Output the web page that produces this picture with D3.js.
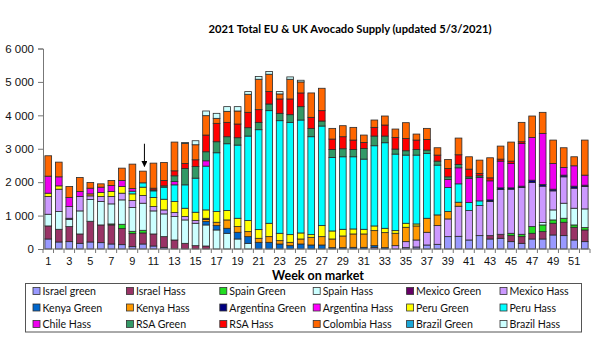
<!DOCTYPE html>
<html><head><meta charset="utf-8">
<script src="https://cdn.jsdelivr.net/npm/d3@7"></script>
<style>
body{margin:0;background:#fff;}
svg{display:block;}
</style></head>
<body>
<svg id="chart" width="600" height="350"></svg>
<script>
const weeks = d3.range(1, 53);
const yTicks = [0, 1000, 2000, 3000, 4000, 5000, 6000];
const xLabelWeeks = d3.range(1, 53, 2);
const titleText = "2021 Total EU & UK Avocado Supply (updated 5/3/2021)";
const xTitle = "Week on market";

const seriesNames = ["Israel green","Israel Hass","Spain Green","Spain Hass","Mexico Green","Mexico Hass",
  "Kenya Green","Kenya Hass","Argentina Green","Argentina Hass","Peru Green","Peru Hass",
  "Chile Hass","RSA Green","RSA Hass","Colombia Hass","Brazil Green","Brazil Hass"];
const seriesColors = ["#9999FF","#993366","#22DD22","#CCFFFF","#660066","#CC99FF",
  "#0066CC","#FF9900","#000080","#FF00FF","#FFFF00","#00FFFF",
  "#EE00EE","#339966","#FF0000","#FF6600","#1AA6D6","#CCFFFF"];

const israelGreen = [300,210,220,170,210,190,150,130,70,150, 90,50,0,0,0,0,0,0,0,0, 0,0,0,0,0,0,0,0,0,0, 0,0,0,0,40,60,120,140,370,380, 270,400,300,320,220,170,300,300,420,400, 270,220];
const israelHass = [390,380,450,280,620,530,570,480,390,330, 360,320,270,170,100,90,0,0,0,0, 0,0,0,0,0,0,0,0,0,0, 0,0,0,0,0,0,0,0,0,0, 0,0,100,120,180,200,170,220,350,400, 380,350];
const spainGreen = [0,0,0,0,0,0,30,130,70,80, 0,0,0,0,0,0,0,0,0,0, 0,0,0,0,0,0,0,0,0,0, 0,0,0,0,0,0,0,0,0,0, 0,0,0,0,70,70,200,200,100,120, 70,70];
const spainHass = [350,530,220,690,650,700,600,730,710,810, 690,680,700,700,670,630,570,470,300,170, 0,0,0,0,0,0,0,0,0,0, 0,0,0,0,0,0,0,0,0,0, 0,0,0,0,0,0,0,70,300,450, 500,560];
const mexicoGreen = [0,0,30,0,0,0,0,0,0,0, 0,0,0,0,0,0,0,0,0,0, 0,0,0,0,0,0,0,0,0,0, 0,0,0,0,0,0,0,0,0,0, 0,0,0,0,0,0,0,0,0,0, 0,0];
const mexicoHass = [530,670,350,430,110,150,220,200,210,230, 130,120,120,100,80,0,0,0,0,0, 0,0,0,0,0,0,0,0,0,0, 0,50,0,100,180,210,380,560,530,900, 880,900,1020,1340,1320,1400,1320,1090,570,790, 600,670];
const kenyaGreen = [0,0,0,0,0,0,0,0,0,0, 0,0,0,0,0,100,130,150,200,200, 200,200,150,100,150,120,120,40,40,50, 50,50,40,0,0,0,0,0,0,0, 0,0,0,0,0,0,0,0,0,0, 0,0];
const kenyaHass = [0,0,0,0,60,0,0,0,0,0, 0,0,0,0,0,60,100,250,170,150, 120,170,100,100,150,230,250,260,350,400, 400,450,450,370,430,420,420,320,220,120, 0,0,0,0,0,0,0,0,0,0, 0,0];
const argentinaGreen = [0,0,0,0,0,0,0,0,0,0, 0,0,0,0,0,40,0,0,0,0, 0,0,0,0,0,0,0,0,0,0, 0,0,0,0,0,0,0,0,0,0, 0,0,50,50,40,40,70,50,50,50, 60,40];
const argentinaHass = [0,0,0,0,0,0,0,0,0,0, 0,0,0,0,0,0,0,0,0,0, 0,0,0,0,0,0,0,0,0,0, 0,0,0,0,0,0,0,0,0,0, 0,0,0,0,0,0,0,0,0,0, 0,0];
const peruGreen = [100,100,0,0,0,120,150,200,200,250, 270,320,330,250,250,250,320,280,250,330, 260,400,220,230,180,80,330,240,200,150, 140,140,130,80,120,60,0,0,0,0, 0,0,0,0,0,0,0,0,0,0, 0,0];
const peruHass = [0,0,0,0,0,0,0,0,80,130, 200,360,500,700,1020,1310,1760,2000,2190,2530, 2990,3370,3370,3360,3380,2930,2980,2200,2170,2160, 2100,2400,2560,2290,2040,2060,1940,1490,720,550, 240,140,0,0,0,0,0,0,0,0, 0,0];
const chileHass = [510,270,270,150,170,160,180,180,80,0, 0,0,100,0,0,160,0,0,0,0, 0,0,0,0,0,0,0,0,0,0, 0,0,0,0,0,0,0,0,240,480, 720,700,570,800,730,1280,1280,1530,770,230, 610,300];
const rsaGreen = [0,0,0,0,0,0,0,0,0,0, 30,40,170,490,350,270,330,210,220,250, 220,200,220,230,400,250,150,240,240,220, 320,290,200,150,130,170,100,120,80,100, 50,50,0,0,0,0,0,0,0,0, 0,0];
const rsaHass = [0,0,0,0,0,0,0,0,0,0, 50,160,150,150,200,500,550,430,410,460, 380,370,430,470,410,330,310,310,360,280, 180,260,330,350,370,280,320,180,250,290, 230,70,90,60,70,50,0,0,0,0, 0,0];
const colombiaHass = [610,440,330,420,170,100,150,370,730,350, 750,540,860,600,450,580,150,330,390,540, 910,520,150,590,330,730,670,320,330,380, 220,220,270,250,470,180,330,220,270,500, 370,400,600,390,570,580,640,630,700,590, 270,1050];
const brazilGreen = [0,0,0,0,0,0,0,0,0,0, 0,0,0,0,0,0,0,0,0,0, 0,0,0,0,0,0,0,0,0,0, 0,0,0,0,0,0,0,0,0,0, 0,0,0,0,0,0,0,0,0,0, 0,0];
const brazilHass = [0,0,0,0,0,0,0,0,0,0, 0,0,0,30,120,140,150,140,130,80, 80,80,70,70,50,0,0,0,0,0, 0,0,0,0,0,0,0,0,0,0, 0,0,0,0,0,0,0,0,0,0, 0,0];

const seriesValues = [israelGreen, israelHass, spainGreen, spainHass, mexicoGreen, mexicoHass,
  kenyaGreen, kenyaHass, argentinaGreen, argentinaHass, peruGreen, peruHass,
  chileHass, rsaGreen, rsaHass, colombiaHass, brazilGreen, brazilHass];

const table = weeks.map((w, i) => {
  const row = {week: w};
  seriesNames.forEach((n, s) => row[n] = seriesValues[s][i]);
  return row;
});

const svg = d3.select("#chart");
svg.append("rect").attr("width", 600).attr("height", 350).attr("fill", "#fff");

const plot = {left: 43, right: 590, top: 48.5, bottom: 249};
const x = d3.scaleBand().domain(weeks).range([plot.left, plot.right]).paddingInner(0.36).paddingOuter(0.18);
const y = d3.scaleLinear().domain([0, 6000]).range([plot.bottom, plot.top]);
const color = d3.scaleOrdinal().domain(seriesNames).range(seriesColors);

const stacked = d3.stack().keys(seriesNames)(table);

const g = svg.append("g");
g.selectAll("g.series").data(stacked).join("g")
  .attr("class", "series")
  .attr("fill", d => color(d.key))
  .selectAll("rect").data(d => d.filter(p => p[1] - p[0] > 0)).join("rect")
  .attr("x", d => x(d.data.week))
  .attr("y", d => y(d[1]))
  .attr("width", x.bandwidth())
  .attr("height", d => y(d[0]) - y(d[1]))
  .attr("stroke", "#2a2a2a")
  .attr("stroke-width", 0.8);

const fmt = v => d3.format(",")(v).replace(/,/g, " ");
const yAxis = svg.append("g").attr("transform", `translate(${plot.left},0)`)
  .call(d3.axisLeft(y).tickValues(yTicks).tickFormat(fmt).tickSize(5).tickPadding(4));
yAxis.select(".domain").attr("stroke", "#777");
yAxis.selectAll(".tick line").attr("stroke", "#777");
yAxis.selectAll("text").attr("font-family", "'Liberation Sans', Arial, sans-serif").attr("font-size", 11.5).attr("fill", "#111");

const xAxisG = svg.append("g").attr("transform", `translate(0,${plot.bottom})`);
xAxisG.append("line").attr("x1", plot.left).attr("x2", plot.right).attr("y1", 0).attr("y2", 0).attr("stroke", "#777");
const step = x.step();
const boundaries = weeks.map(w => x(w) - (step - x.bandwidth()) / 2).concat([plot.right]);
xAxisG.selectAll("line.tk").data(boundaries).join("line").attr("class", "tk")
  .attr("x1", d => d).attr("x2", d => d).attr("y1", 0).attr("y2", 4).attr("stroke", "#777");
xAxisG.selectAll("text").data(xLabelWeeks).join("text")
  .attr("x", d => x(d) + x.bandwidth() / 2)
  .attr("y", 16)
  .attr("text-anchor", "middle")
  .attr("font-family", "'Liberation Sans', Arial, sans-serif").attr("font-size", 11).attr("fill", "#111")
  .text(d => d);

svg.append("text").attr("x", 350).attr("y", 33).attr("text-anchor", "middle")
  .attr("font-family", "Lato, 'Open Sans', sans-serif").attr("font-weight", "bold").attr("font-size", 11.2)
  .attr("fill", "#000").text(titleText);
svg.append("text").attr("x", 318).attr("y", 280).attr("text-anchor", "middle")
  .attr("font-family", "Lato, 'Open Sans', sans-serif").attr("font-weight", "bold").attr("font-size", 12.5)
  .attr("fill", "#000").text(xTitle);

const defs = svg.append("defs");
defs.append("marker").attr("id", "arrowhead").attr("viewBox", "0 0 10 10").attr("refX", 9).attr("refY", 5)
  .attr("markerWidth", 6).attr("markerHeight", 6).attr("orient", "auto")
  .append("path").attr("d", "M0,0 L10,5 L0,10 z").attr("fill", "#000");
const ax = x(10) + x.bandwidth() / 2 + 1.5;
svg.append("line").attr("x1", ax).attr("x2", ax).attr("y1", y(3150)).attr("y2", y(2470))
  .attr("stroke", "#000").attr("stroke-width", 1).attr("marker-end", "url(#arrowhead)");

const legend = svg.append("g");
legend.append("rect").attr("x", 25.5).attr("y", 283.5).attr("width", 556).attr("height", 48.5)
  .attr("fill", "#fff").attr("stroke", "#555").attr("stroke-width", 1);
seriesNames.forEach((n, i) => {
  const col = i % 6, row = Math.floor(i / 6);
  const lx = 33 + col * 93.4, ly = 291 + row * 16.5;
  legend.append("rect").attr("x", lx).attr("y", ly - 3.5).attr("width", 7).attr("height", 7)
    .attr("fill", color(n)).attr("stroke", "#333").attr("stroke-width", 0.8);
  legend.append("text").attr("x", lx + 9.5).attr("y", ly + 4)
    .attr("font-family", "Lato, 'Open Sans', sans-serif").attr("font-size", 10.6).attr("fill", "#111")
    .text(n);
});
</script>
</body></html>
